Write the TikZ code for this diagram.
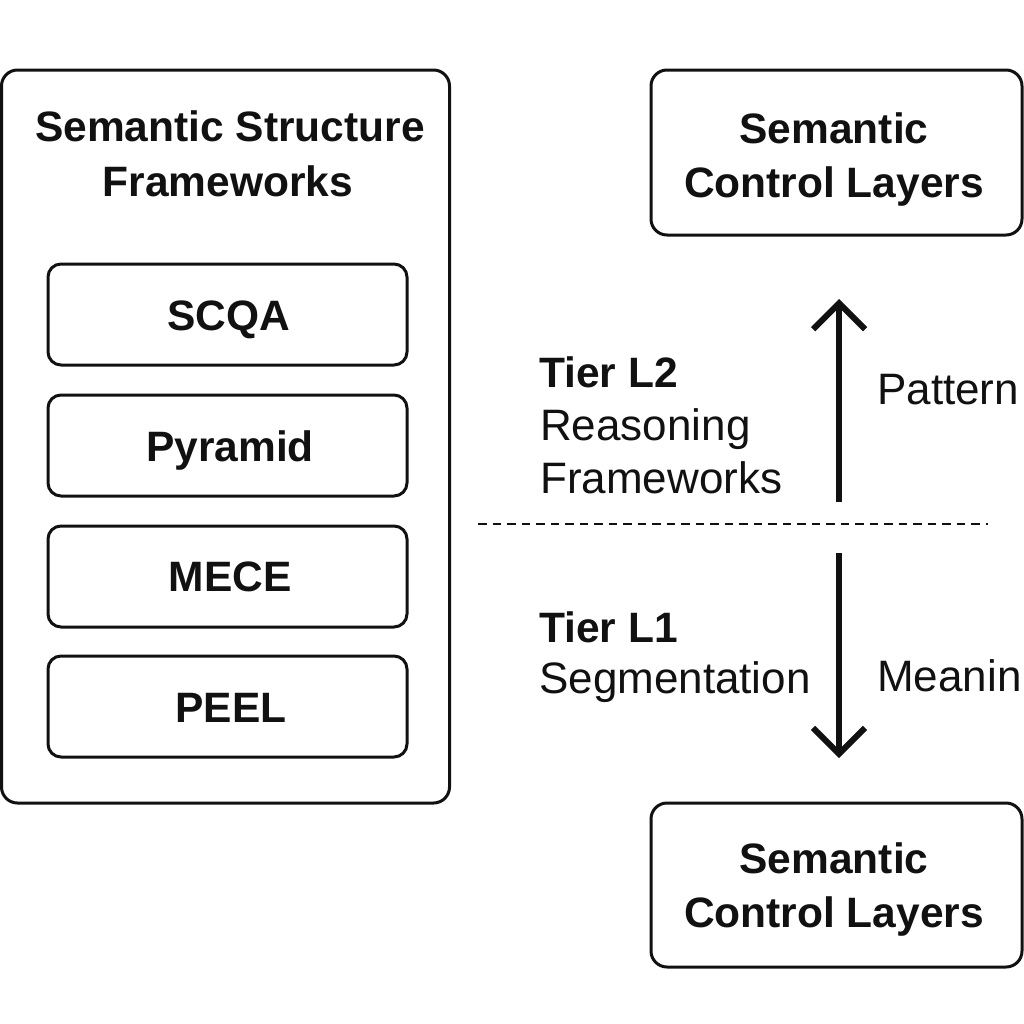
\documentclass[tikz,border=0pt]{standalone}
\usepackage{fontspec}
\setmainfont{Liberation Sans}
\usetikzlibrary{arrows.meta}
\definecolor{ink}{HTML}{111111}
\begin{document}
\begin{tikzpicture}[x=1bp,y=-1bp,
  panel/.style={draw=ink, line width=3bp, rounded corners=16bp, inner sep=0pt, outer sep=0pt, anchor=north west},
  item/.style={draw=ink, line width=3bp, rounded corners=13bp, inner sep=0pt, outer sep=0pt, anchor=north west},
  btxt/.style={font=\fontsize{42.5bp}{55bp}\selectfont\bfseries, text=ink, inner sep=0pt, anchor=base},
  rbold/.style={font=\fontsize{42.5bp}{53bp}\selectfont\bfseries, text=ink, inner sep=0pt, anchor=base west},
  rtxt/.style={font=\fontsize{44bp}{53bp}\selectfont, text=ink, inner sep=0pt, anchor=base west},
  shaft/.style={draw=ink, line width=6bp, -{Straight Barb[length=26bp,width=52bp]}},
  divider/.style={draw=ink, line width=2.2bp, dash pattern=on 8.5bp off 6bp},
]
\useasboundingbox (0,0) rectangle (1024,1024);
\fill[white] (0,0) rectangle (1024,1024);

% left panel
\node[panel, minimum width=448bp, minimum height=733bp] (frame) at (1.5,70) {};
\node[btxt] (ft1) at (230,141) {Semantic Structure};
\node[btxt] (ft2) at (228,196) {Frameworks};

\node[item, minimum width=359bp, minimum height=101bp] (b1) at (48,264) {};
\node[item, minimum width=359bp, minimum height=101bp] (b2) at (48,395) {};
\node[item, minimum width=359bp, minimum height=101bp] (b3) at (48,526) {};
\node[item, minimum width=359bp, minimum height=101bp] (b4) at (48,656) {};
\node[btxt] (s1) at (229,330) {SCQA};
\node[btxt] (s2) at (230,461) {Pyramid};
\node[btxt] (s3) at (230,591) {MECE};
\node[btxt] (s4) at (231,722) {PEEL};

% right boxes
\node[panel, minimum width=371bp, minimum height=165bp] (top) at (651,70) {};
\node[btxt] (tt1) at (834,143) {Semantic};
\node[btxt] (tt2) at (834,197) {Control Layers};
\node[panel, minimum width=371bp, minimum height=164bp] (bot) at (651,803) {};
\node[btxt] (bt1) at (834,873) {Semantic};
\node[btxt] (bt2) at (834,927) {Control Layers};

% arrows
\coordinate (upS) at (839,502);
\coordinate (upE) at (839,299);
\coordinate (dnS) at (839,553);
\coordinate (dnE) at (839,758);
\draw[shaft] (upS) -- (upE);
\draw[shaft] (dnS) -- (dnE);

% divider
\coordinate (dl) at (478,524);
\coordinate (dr) at (988,524);
\draw[divider] (dl) -- (dr);

% tier labels
\node[rbold] (l2) at (539,387) {Tier L2};
\node[rtxt] (l2a) at (540,440) {Reasoning};
\node[rtxt] (l2b) at (540,493) {Frameworks};
\node[rbold] (l1) at (539,642) {Tier L1};
\node[rtxt] (l1a) at (539,693) {Segmentation};
\node[rtxt] (pat) at (877,404) {Pattern};
\node[rtxt] (mea) at (877,691) {Meanin};
\end{tikzpicture}
\end{document}
